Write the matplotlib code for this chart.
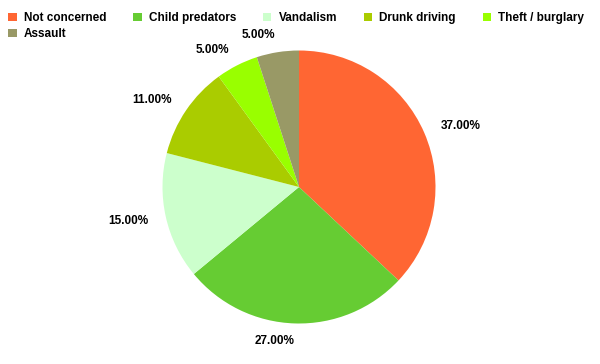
import matplotlib.pyplot as plt
from matplotlib import font_manager
from matplotlib.patches import Patch

installed = {f.name for f in font_manager.fontManager.ttflist}
main_font = 'Liberation Sans Narrow' if 'Liberation Sans Narrow' in installed else 'Liberation Sans'
plt.rcParams['font.family'] = [main_font, 'DejaVu Sans']
plt.rcParams['font.weight'] = 'bold'
fsize = 9 if main_font == 'Liberation Sans Narrow' else 8.5

categories = ['Not concerned', 'Child predators', 'Vandalism',
              'Drunk driving', 'Theft / burglary', 'Assault']
shares = [37, 27, 15, 11, 5, 5]
colors = ['#FF6633', '#66CC33', '#CCFFCC', '#AACC00', '#99FF00', '#999966']

fig = plt.figure(figsize=(6, 3.64), dpi=100)

# pie centre ~ (299, 187) px, radius ~136 px
r_px = 136.5
ax = fig.add_axes([(299 - r_px) / 600, (364 - 187 - r_px) / 364,
                   2 * r_px / 600, 2 * r_px / 364])

labels = [f'{v:.2f}%' for v in shares]
wedges, texts = ax.pie(shares, colors=colors, startangle=90, counterclock=False,
                       labels=labels, labeldistance=1.13,
                       textprops={'fontsize': fsize, 'fontweight': 'bold'},
                       wedgeprops={'linewidth': 0})
ax.set_xlim(-1, 1)
ax.set_ylim(-1, 1)
ax.set_aspect('equal')

# legend fills column by column, so reorder to get row-wise layout
order = [0, 5, 1, 2, 3, 4]
handles = [Patch(facecolor=colors[i], edgecolor='none') for i in order]
names = [categories[i] for i in order]
fig.legend(handles, names, loc='upper left', bbox_to_anchor=(0.0, 1 - 4 / 364),
           ncol=5, frameon=False, handlelength=0.7, handleheight=0.7,
           handletextpad=0.6, columnspacing=2.3, labelspacing=0.3,
           borderaxespad=0.3, prop={'weight': 'bold', 'size': fsize})

plt.savefig('out.png', dpi=100)
